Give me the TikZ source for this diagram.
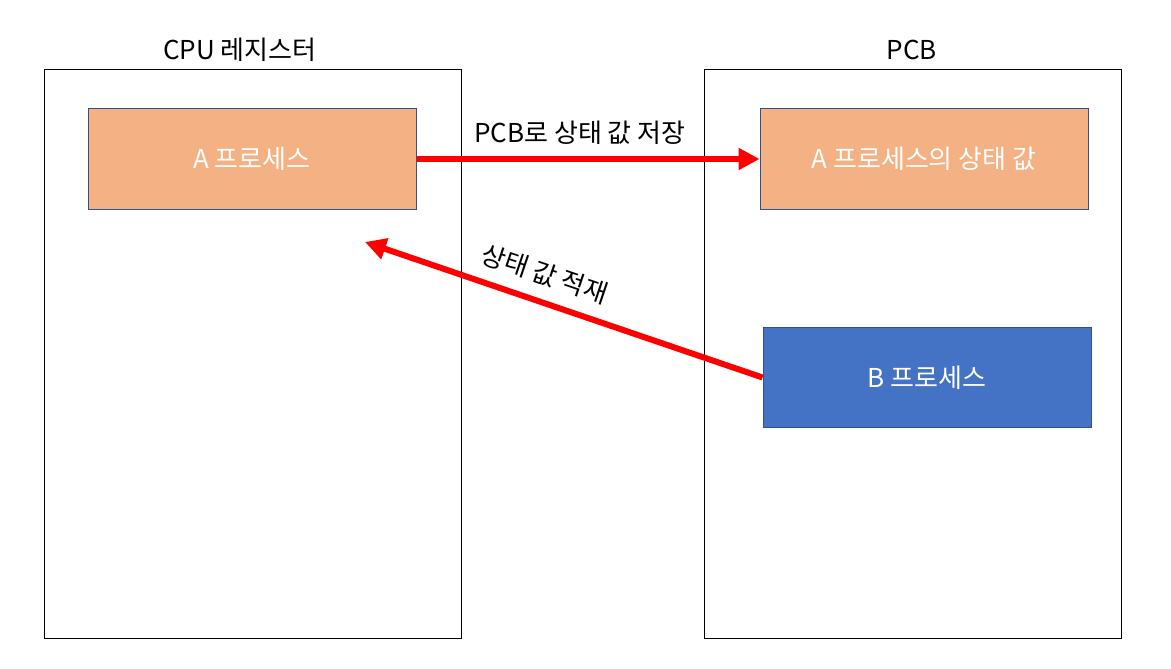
\documentclass[tikz,border=0pt]{standalone}
\usepackage{fontspec}
\setmainfont{Noto Sans CJK KR}
\usetikzlibrary{arrows.meta}
\definecolor{orangefill}{HTML}{F4B183}
\definecolor{bluefill}{HTML}{4472C4}
\definecolor{boxedge}{HTML}{2F528F}
\tikzset{
  bigbox/.style={draw=black, line width=1pt, fill=none},
  procbox/.style={draw=boxedge, line width=1pt, minimum width=328pt, minimum height=100pt, inner sep=0pt, text=white, font=\fontsize{26}{30}\selectfont},
  title/.style={font=\fontsize{26}{30}\selectfont, text=black},
  redarrow/.style={draw=red, line width=6pt, -{Triangle[length=21pt,width=21pt]}},
  lbl/.style={font=\fontsize{26}{30}\selectfont, text=black}
}
\begin{document}
\begin{tikzpicture}[x=1pt,y=-1pt]
\useasboundingbox (0,0) rectangle (1171,669);
\draw[bigbox] (44,70) rectangle (461,638);
\draw[bigbox] (704,70) rectangle (1121,638);
\node[title] (t1) at (240,50) {CPU 레지스터};
\node[title] (t2) at (912,50) {PCB};
\node[procbox, fill=orangefill] (a) at (252,159) {A 프로세스};
\node[procbox, fill=orangefill] (as) at (924,159) {A 프로세스의 상태 값};
\node[procbox, fill=bluefill] (b) at (927,377.5) {B 프로세스};
\coordinate (tip) at (365,242);
\draw[redarrow] (a.east) -- (as.west);
\node[lbl] (l1) at (580,133) {PCB로 상태 값 저장};
\draw[redarrow] (b.west) -- (tip);
\node[lbl, rotate=-18.7] (l2) at (545,274) {상태 값 적재};
\end{tikzpicture}
\end{document}
